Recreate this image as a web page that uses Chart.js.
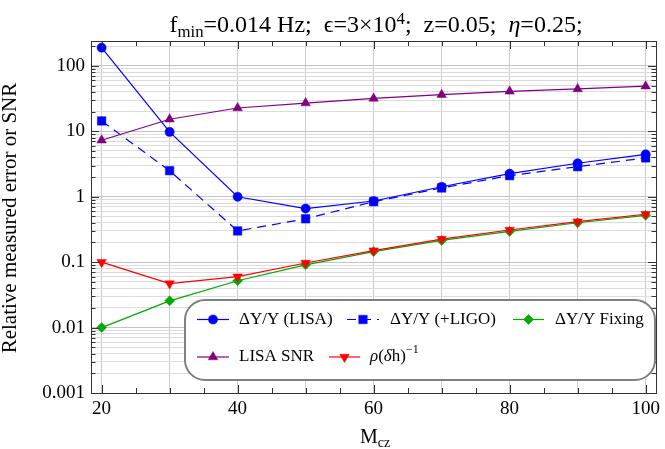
<!DOCTYPE html>
<html><head><meta charset="utf-8">
<script src="https://cdn.jsdelivr.net/npm/chart.js@4/dist/chart.umd.min.js"></script>
<style>
html,body{margin:0;padding:0;background:#fff;}
#wrap{position:relative;width:665px;height:449px;overflow:hidden;background:#fff;}
canvas{position:absolute;left:0;top:0;}
.lbl{position:absolute;font-family:"Liberation Serif","DejaVu Serif",serif;color:#000;white-space:nowrap;}
.sub{font-size:70%;position:relative;top:0.3em;}
.sup{font-size:70%;position:relative;top:-0.45em;}
</style></head><body>
<div id="wrap">
<canvas id="c" width="665" height="449"></canvas>
<div id="title" class="lbl" style="left:376px;top:12px;font-size:24px;line-height:24px;transform:translateX(-50%);">f<span class="sub">min</span>=0.014 Hz;&nbsp; ϵ=3×10<span class="sup">4</span>;&nbsp; z=0.05;&nbsp; <i>η</i>=0.25;</div>
<div id="ytitle" class="lbl" style="left:-141px;top:206px;width:300px;text-align:center;font-size:21px;line-height:24px;transform:rotate(-90deg);">Relative measured error or SNR</div>
<div id="xtitle" class="lbl" style="left:375px;top:426px;font-size:20px;line-height:20px;transform:translateX(-50%);">M<span class="sub">cz</span></div>
</div>
<script>
// ---- data ----
const masses = [20, 30, 40, 50, 60, 70, 80, 90, 100];
const lisaErr = [190, 9.8, 1.0, 0.66, 0.86, 1.42, 2.25, 3.25, 4.45];
const ligoErr = [14.4, 2.5, 0.30, 0.46, 0.84, 1.36, 2.1, 2.88, 3.92];
const fixingErr = [0.010, 0.0256, 0.052, 0.091, 0.145, 0.215, 0.295, 0.40, 0.52];
const lisaSNR = [7.3, 15.3, 22.7, 27, 31.8, 36.3, 40.8, 44.4, 49];
const rhoDh = [0.10, 0.047, 0.060, 0.097, 0.15, 0.225, 0.31, 0.415, 0.54];

const xTickValues = [20,25,30,35,40,45,50,55,60,65,70,75,80,85,90,95,100];
const xLabelValues = [20, 40, 60, 80, 100];
const xTickLabels = ['20', '40', '60', '80', '100'];
const yLabelValues = [0.001, 0.01, 0.1, 1, 10, 100];
const yTickLabels = ['0.001', '0.01', '0.1', '1', '10', '100'];
const yMinorMult = [1,2,3,4,5,6,7,8,9];

const FONT = '"Liberation Serif","DejaVu Serif",serif';
const BLUE = '#0000ff', PURPLE = '#800080', RED = '#ff0000', GREEN = '#00aa00';

const yTickValues = [];
yLabelValues.forEach(d => yMinorMult.forEach(m => { const v = d*m; if (v <= 240) yTickValues.push(v); }));

function pts(arr){ return masses.map((m,i)=>({x:m, y:arr[i]})); }
function isDecade(v){ return yLabelValues.some(d => Math.abs(v/d - 1) < 1e-9); }

const datasets = [
  {label:'ΔY/Y (LISA)', data:pts(lisaErr), borderColor:BLUE, backgroundColor:BLUE, borderWidth:1.2,
   pointStyle:'circle', pointRadius:4.6, pointBorderWidth:0.5, pointBackgroundColor:BLUE, pointBorderColor:BLUE, order:5},
  {label:'ΔY/Y (+LIGO)', data:pts(ligoErr), borderColor:BLUE, backgroundColor:BLUE, borderWidth:1.2, borderDash:[9,6],
   pointStyle:'rect', pointRadius:6, pointBorderWidth:0.5, pointBackgroundColor:BLUE, pointBorderColor:BLUE, order:4},
  {label:'ΔY/Y Fixing', data:pts(fixingErr), borderColor:GREEN, backgroundColor:GREEN, borderWidth:1.2,
   pointStyle:'rectRot', pointRadius:5, pointBorderWidth:0.5, pointBackgroundColor:GREEN, pointBorderColor:GREEN, order:3},
  {label:'LISA SNR', data:pts(lisaSNR), borderColor:PURPLE, backgroundColor:PURPLE, borderWidth:1.2,
   pointStyle:'triangle', pointRadius:5.5, pointBorderWidth:0.5, pointBackgroundColor:PURPLE, pointBorderColor:PURPLE, order:2},
  {label:'rho', data:pts(rhoDh), borderColor:RED, backgroundColor:RED, borderWidth:1.2,
   pointStyle:'triangle', pointRotation:180, pointRadius:5.5, pointBorderWidth:0.5, pointBackgroundColor:RED, pointBorderColor:RED, order:1}
];

const framePlugin = {
  id:'frame',
  afterDatasetsDraw(chart){
    const {ctx, chartArea:a, scales} = chart;
    ctx.save();
    ctx.strokeStyle = '#333';
    ctx.lineWidth = 1;
    ctx.beginPath();
    xTickValues.forEach(v => {
      const px = Math.round(scales.x.getPixelForValue(v)) + 0.5;
      const len = xLabelValues.includes(v) ? 8 : 5;
      ctx.moveTo(px, a.bottom); ctx.lineTo(px, a.bottom - len);
      ctx.moveTo(px, a.top); ctx.lineTo(px, a.top + len);
    });
    yTickValues.forEach(v => {
      const py = Math.round(scales.y.getPixelForValue(v)) + 0.5;
      const len = isDecade(v) ? 8 : 4.5;
      ctx.moveTo(a.left, py); ctx.lineTo(a.left + len, py);
      ctx.moveTo(a.right, py); ctx.lineTo(a.right - len, py);
    });
    ctx.stroke();
    ctx.strokeRect(Math.round(a.left)+0.5, Math.round(a.top)+0.5, Math.round(a.right-a.left), Math.round(a.bottom-a.top));
    ctx.restore();
  }
};

function marker(ctx, ds, x, y){
  ctx.save();
  ctx.fillStyle = ds.pointBackgroundColor;
  ctx.strokeStyle = ds.pointBorderColor;
  ctx.lineWidth = ds.pointBorderWidth;
  Chart.helpers.drawPoint(ctx, {pointStyle:ds.pointStyle, rotation:ds.pointRotation||0, radius:ds.pointRadius, borderWidth:ds.pointBorderWidth}, x, y);
  ctx.restore();
}

function legendSymbol(ctx, ds, x0, x1, y){
  ctx.save();
  ctx.strokeStyle = ds.borderColor;
  ctx.lineWidth = ds.borderWidth;
  ctx.setLineDash(ds.borderDash || []);
  ctx.beginPath(); ctx.moveTo(x0, y); ctx.lineTo(x1, y); ctx.stroke();
  ctx.restore();
  marker(ctx, ds, (x0+x1)/2, y);
}

const legendPlugin = {
  id:'mmaLegend',
  afterDatasetsDraw(chart){
    const ctx = chart.ctx;
    const L = 185, T = 300, W = 470, H = 80, R = 20;
    ctx.save();
    ctx.beginPath();
    ctx.moveTo(L+R, T); ctx.lineTo(L+W-R, T); ctx.arcTo(L+W, T, L+W, T+R, R);
    ctx.lineTo(L+W, T+H-R); ctx.arcTo(L+W, T+H, L+W-R, T+H, R);
    ctx.lineTo(L+R, T+H); ctx.arcTo(L, T+H, L, T+H-R, R);
    ctx.lineTo(L, T+R); ctx.arcTo(L, T, L+R, T, R);
    ctx.closePath();
    ctx.fillStyle = '#fff'; ctx.fill();
    ctx.strokeStyle = '#808080'; ctx.lineWidth = 2; ctx.stroke();

    const ds = chart.data.datasets;
    const r1 = 319.5, r2 = 357;
    ctx.fillStyle = '#000';
    ctx.textBaseline = 'middle';
    ctx.textAlign = 'left';
    ctx.font = '17px ' + FONT;
    legendSymbol(ctx, ds[0], 197, 229, r1); ctx.fillText(ds[0].label, 239, r1);
    legendSymbol(ctx, ds[1], 347, 379, r1); ctx.fillText(ds[1].label, 390, r1);
    legendSymbol(ctx, ds[2], 513, 544, r1); ctx.fillText(ds[2].label, 555, r1);
    legendSymbol(ctx, ds[3], 197, 229, r2); ctx.fillText(ds[3].label, 239, r2);
    legendSymbol(ctx, ds[4], 329, 360, r2);
    // ρ(δh)^-1
    let x = 370;
    const part = (t, f, dy) => { ctx.font = f; ctx.fillText(t, x, r2 + (dy||0)); x += ctx.measureText(t).width; };
    part('ρ', 'italic 17px ' + FONT);
    part('(', '17px ' + FONT);
    part('δ', 'italic 17px ' + FONT);
    part('h)', '17px ' + FONT);
    part('−1', '12px ' + FONT, -7);
    ctx.restore();
  }
};

new Chart(document.getElementById('c'), {
  type:'line',
  data:{datasets},
  options:{
    responsive:false, animation:false,
    layout:{padding:{left:0, top:41, right:5, bottom:0}},
    plugins:{legend:{display:false}, tooltip:{enabled:false}, title:{display:false}},
    elements:{line:{tension:0}},
    scales:{
      x:{type:'linear', min:18.44, max:101.53,
        afterBuildTicks(s){ s.ticks = xTickValues.map(v => ({value:v})); },
        afterFit(s){ s.height = 56; },
        ticks:{autoSkip:false, maxRotation:0, minRotation:0, padding:5, color:'#000', font:{family:FONT, size:19},
          callback(v){ const i = xLabelValues.indexOf(v); return i >= 0 ? xTickLabels[i] : ''; }},
        grid:{drawTicks:false, lineWidth:1, color(c){ return (c.tick && c.tick.value % 10 === 0) ? '#cccccc' : 'rgba(0,0,0,0)'; }},
        border:{display:false}
      },
      y:{type:'logarithmic', min:0.001, max:240,
        afterBuildTicks(s){ s.ticks = yTickValues.map(v => ({value:v})); },
        afterFit(s){ s.width = 91; },
        ticks:{autoSkip:false, padding:6, color:'#000', font:{family:FONT, size:19},
          callback(v){ for (let i=0;i<yLabelValues.length;i++){ if (Math.abs(v/yLabelValues[i]-1) < 1e-9) return yTickLabels[i]; } return ''; }},
        grid:{drawTicks:false, lineWidth:1, color(c){ return (c.tick && isDecade(c.tick.value)) ? '#c4c4c4' : '#dcdcdc'; }},
        border:{display:false}
      }
    }
  },
  plugins:[framePlugin, legendPlugin]
});
</script>
</body></html>
